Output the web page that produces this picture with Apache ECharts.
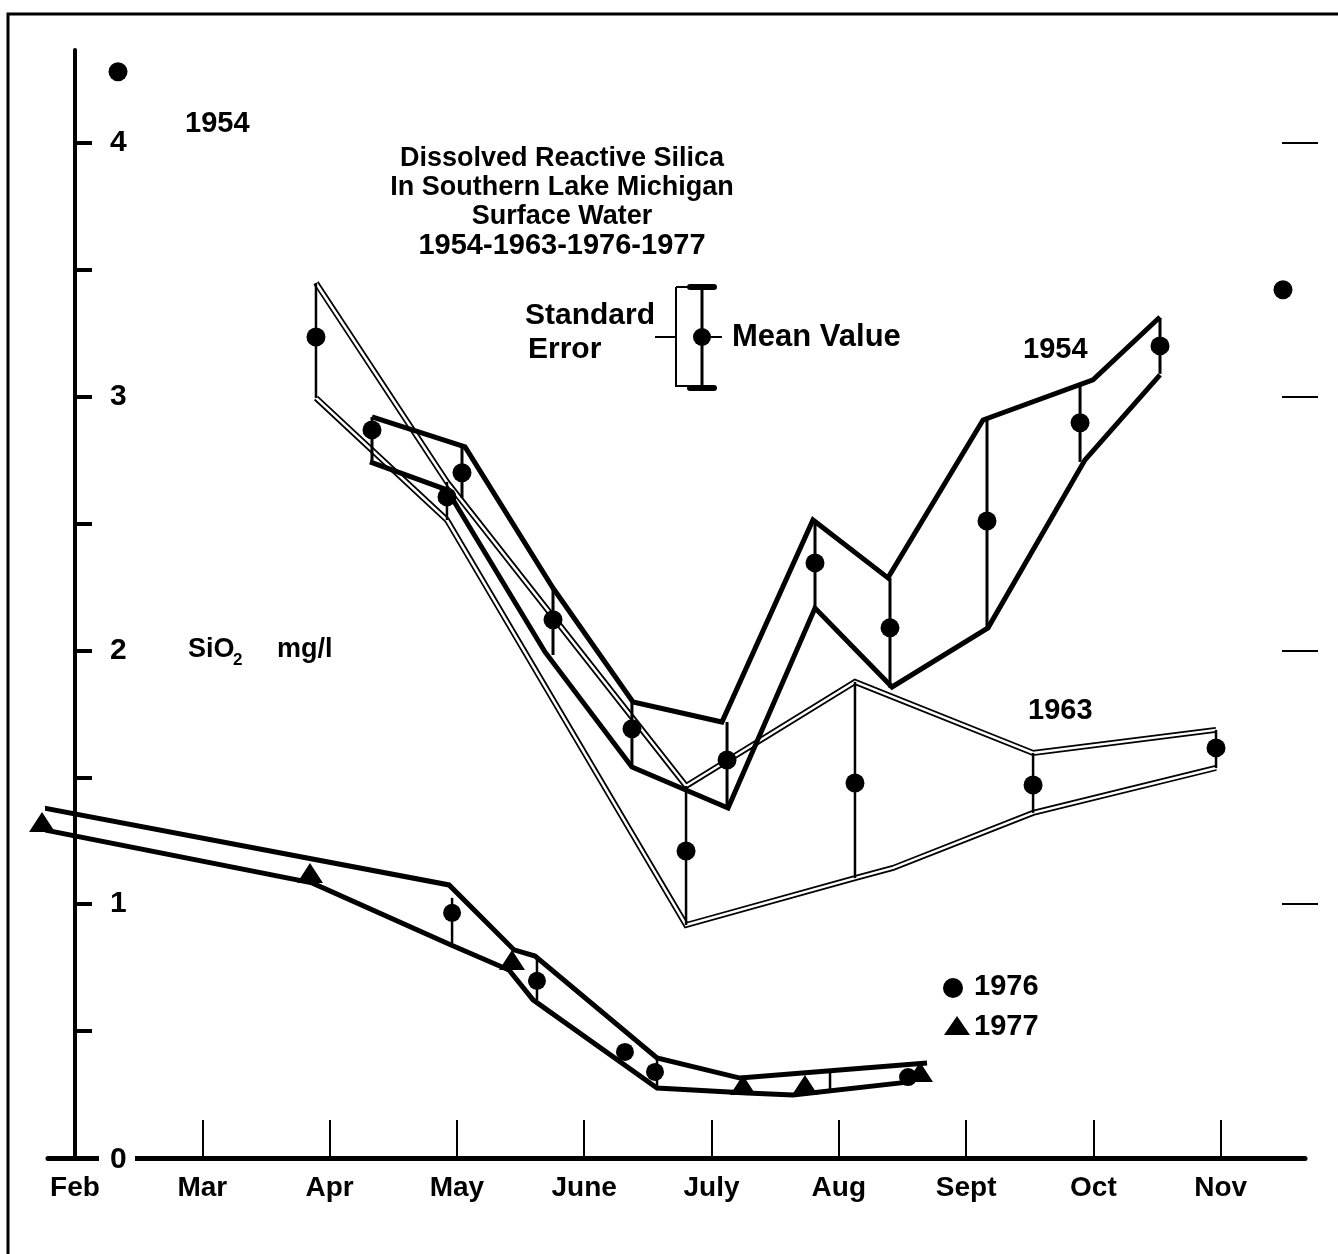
<!DOCTYPE html>
<html>
<head>
<meta charset="utf-8">
<script src="https://cdn.jsdelivr.net/npm/echarts@6/dist/echarts.min.js"></script>
<style>
  html, body { margin: 0; padding: 0; background: #fff; }
  #main { width: 1338px; height: 1254px; }
</style>
</head>
<body>
<div id="main"></div>
<script>
// x = months after 1 Feb (Feb = 0 ... Nov = 9), y = SiO2 mg/l
const months = ['Feb', 'Mar', 'Apr', 'May', 'June', 'July', 'Aug', 'Sept', 'Oct', 'Nov'];

// 1963 (double line band)
const x1963 = [1.893, 2.922, 4.800, 6.127, 7.526, 8.963];
const mean1963 = [3.235, 2.605, 1.210, 1.478, 1.470, 1.616];
const hi1963 = [3.448, 2.664, 1.466, 1.876, 1.596, 1.687];
const lo1963 = [2.995, 2.514, 0.918, 1.103, 1.360, 1.537];
const loLineX1963 = [1.893, 2.922, 4.800, 6.127, 6.426, 7.526, 8.963];
const loLineY1963 = [2.995, 2.514, 0.918, 1.103, 1.143, 1.360, 1.537];

// 1954 (bold band)
const x1954 = [2.333, 3.040, 3.755, 4.375, 5.122, 5.813, 6.402, 7.164, 7.895, 8.523];
const mean1954 = [2.869, 2.700, 2.121, 1.691, 1.568, 2.345, 2.089, 2.510, 2.897, 3.200];
const hi1954 = [2.920, 2.798, 2.246, 1.797, 1.718, 2.514, 2.286, 2.908, 3.042, 3.310];
const lo1954 = [2.743, 2.601, 1.982, 1.541, 1.379, 2.171, 1.852, 2.093, 2.743, 3.090];
const upLineX1954 = [2.333, 3.064, 3.755, 4.383, 5.082, 5.797, 6.386, 7.133, 7.997, 8.523];
const upLineY1954 = [2.920, 2.802, 2.246, 1.797, 1.718, 2.514, 2.286, 2.908, 3.066, 3.314];
const loLineX1954 = [2.317, 2.922, 3.692, 4.375, 5.130, 5.813, 6.418, 7.172, 7.934, 8.523];
const loLineY1954 = [2.743, 2.633, 1.994, 1.541, 1.379, 2.167, 1.856, 2.089, 2.751, 3.086];
const extraX1954 = [0.338, 9.489];
const extraY1954 = [4.280, 3.421];

// 1976 / 1977 (lower band)
const upLineX7677 = [-0.244, 2.938, 3.449, 3.614, 4.572, 5.224, 6.693];
const upLineY7677 = [1.379, 1.076, 0.820, 0.796, 0.394, 0.315, 0.374];
const loLineX7677 = [-0.244, 1.862, 2.954, 3.409, 3.598, 4.572, 5.279, 5.640, 6.559];
const loLineY7677 = [1.293, 1.084, 0.839, 0.741, 0.623, 0.276, 0.256, 0.248, 0.300];
const barX7677 = [2.962, 3.629, 4.572, 5.931];
const barHi7677 = [1.025, 0.792, 0.394, 0.339];
const barLo7677 = [0.847, 0.623, 0.276, 0.268];
const x1976 = [2.962, 3.629, 4.320, 4.556, 6.544];
const y1976 = [0.966, 0.698, 0.418, 0.339, 0.319];
const x1977 = [-0.259, 1.846, 3.433, 5.247, 5.734, 6.638];
const y1977 = [1.324, 1.123, 0.780, 0.288, 0.288, 0.339];

const yTicks = [0.5, 1, 1.5, 2, 2.5, 3, 3.5, 4];
const yLabels = [0, 1, 2, 3, 4];
const rightTicks = [1, 2, 3, 4];

const FONT = 'Liberation Sans, Arial, sans-serif';
const zip = (xs, ys) => xs.map((x, i) => [x, ys[i]]);
const zip3 = (xs, a, b) => xs.map((x, i) => [x, a[i], b[i]]);

function lineSeries(data, width, color, z) {
  return {
    type: 'line', data: data, symbol: 'none', clip: false, silent: true, z: z,
    lineStyle: { color: color, width: width, join: 'miter', cap: 'butt', opacity: 1 }
  };
}
function barSeries(data, width, z) {
  return {
    type: 'custom', data: data, clip: false, silent: true, z: z,
    encode: { x: 0, y: [1, 2] },
    renderItem: function (params, api) {
      const a = api.coord([api.value(0), api.value(1)]);
      const b = api.coord([api.value(0), api.value(2)]);
      return {
        type: 'line',
        shape: { x1: a[0], y1: a[1], x2: b[0], y2: b[1] },
        style: { stroke: '#000', lineWidth: width }
      };
    }
  };
}
function dotSeries(data, symbol, size, z) {
  return {
    type: 'scatter', data: data, symbol: symbol, symbolSize: size, clip: false, silent: true, z: z,
    itemStyle: { color: '#000', opacity: 1 }
  };
}

const chart = echarts.init(document.getElementById('main'), null, { renderer: 'canvas' });

const txt = (x, y, text, size, align) => ({
  type: 'text', x: x, y: y, silent: true, z: 10,
  style: { text: text, font: 'bold ' + size + 'px ' + FONT, fill: '#000', align: align || 'left', verticalAlign: 'middle' }
});
const seg = (x1, y1, x2, y2, w, cap) => ({
  type: 'line', silent: true, shape: { x1: x1, y1: y1, x2: x2, y2: y2 },
  style: { stroke: '#000', lineWidth: w, lineCap: cap || 'butt' }
});

let option = {
  animation: false,
  backgroundColor: '#fff',
  grid: { left: 48, right: 33, top: 50, bottom: 96, outerBoundsMode: 'none' },
  xAxis: {
    type: 'value', min: -0.212, max: 9.662,
    splitLine: { show: false },
    axisLine: { onZero: false, lineStyle: { color: '#000', width: 5 } },
    axisTick: { inside: true, length: 38, customValues: [1, 2, 3, 4, 5, 6, 7, 8, 9], lineStyle: { color: '#000', width: 2 } },
    axisLabel: {
      customValues: [0, 1, 2, 3, 4, 5, 6, 7, 8, 9],
      formatter: v => months[Math.round(v)],
      margin: 16, color: '#000', fontSize: 28, fontWeight: 'bold', fontFamily: FONT
    }
  },
  yAxis: [{
    type: 'value', min: 0, max: 4.366,
    splitLine: { show: false },
    axisLine: { onZero: true, lineStyle: { color: '#000', width: 4 } },
    axisTick: { inside: true, length: 17, customValues: yTicks, lineStyle: { color: '#000', width: 4 } },
    axisLabel: { show: false }
  }, {
    type: 'value', min: 0, max: 4.366, position: 'right', offset: 13,
    splitLine: { show: false },
    axisLine: { show: false, onZero: false },
    axisTick: { show: true, inside: true, length: 36, customValues: rightTicks, lineStyle: { color: '#000', width: 2 } },
    axisLabel: { show: false }
  }],
  series: [
    // 1963 double lines
    lineSeries(zip(x1963, hi1963), 6, '#000', 2),
    lineSeries(zip(x1963, hi1963), 2.5, '#fff', 3),
    lineSeries(zip(loLineX1963, loLineY1963), 6, '#000', 2),
    lineSeries(zip(loLineX1963, loLineY1963), 2.5, '#fff', 3),
    barSeries(zip3(x1963, lo1963, hi1963), 2.5, 4),
    dotSeries(zip(x1963, mean1963), 'circle', 19, 8),
    // 1954 bold band
    lineSeries(zip(upLineX1954, upLineY1954), 5, '#000', 5),
    lineSeries(zip(loLineX1954, loLineY1954), 5, '#000', 5),
    barSeries(zip3(x1954, lo1954, hi1954), 3, 5),
    dotSeries(zip(x1954, mean1954), 'circle', 19, 8),
    dotSeries(zip(extraX1954, extraY1954), 'circle', 19, 8),
    // 1976 / 1977 band
    lineSeries(zip(upLineX7677, upLineY7677), 5, '#000', 5),
    lineSeries(zip(loLineX7677, loLineY7677), 5, '#000', 5),
    barSeries(zip3(barX7677, barLo7677, barHi7677), 2.5, 5),
    dotSeries(zip(x1976, y1976), 'circle', 18, 8),
    dotSeries(zip(x1977, y1977), 'triangle', [26, 20], 8)
  ],
  graphic: [
    { type: 'rect', silent: true, shape: { x: 8, y: 14, width: 1400, height: 1300 }, style: { fill: 'none', stroke: '#000', lineWidth: 3 } },
    txt(185, 124, '1954', 29),
    {
      type: 'text', x: 562, y: 144, silent: true,
      style: {
        text: '{a|Dissolved Reactive Silica}\n{a|In Southern Lake Michigan}\n{a|Surface Water}\n{d|1954-1963-1976-1977}',
        align: 'center', verticalAlign: 'top',
        rich: {
          a: { font: 'bold 27px ' + FONT, fill: '#000', lineHeight: 29, align: 'center' },
          d: { font: 'bold 29px ' + FONT, fill: '#000', lineHeight: 29, align: 'center' }
        }
      }
    },
    txt(525, 316, 'Standard', 30),
    txt(528, 350, 'Error', 30),
    txt(732, 337, 'Mean Value', 31),
    // standard error key
    seg(655, 337, 676, 337, 2),
    seg(676, 287, 676, 387, 2),
    seg(676, 287, 689, 287, 2),
    seg(676, 386, 689, 386, 2),
    seg(702, 287, 702, 388, 3),
    seg(690, 287, 714, 287, 6, 'round'),
    seg(690, 388, 714, 388, 6, 'round'),
    { type: 'circle', silent: true, shape: { cx: 702, cy: 337, r: 9 }, style: { fill: '#000' } },
    seg(711, 337, 722, 337, 2),
    txt(1023, 350, '1954', 29),
    txt(1028, 711, '1963', 29),
    txt(188, 650, 'SiO', 27),
    txt(233, 660, '2', 17),
    txt(277, 650, 'mg/l', 27),
    // 1976 / 1977 key
    { type: 'circle', silent: true, shape: { cx: 953, cy: 988, r: 10 }, style: { fill: '#000' } },
    txt(974, 987, '1976', 29),
    { type: 'polygon', silent: true, shape: { points: [[957, 1016], [944, 1035], [970, 1035]] }, style: { fill: '#000' } },
    txt(974, 1027, '1977', 29)
  ]
};

chart.setOption(option);

// y tick labels sit inside the plot, right of the axis; place them with the axis scale
const yLabelGraphics = [];
yLabels.forEach(v => {
  const py = chart.convertToPixel({ yAxisIndex: 0 }, v);
  if (v === 0) {
    yLabelGraphics.push({ type: 'rect', silent: true, z: 9, shape: { x: 99, y: py - 6, width: 36, height: 12 }, style: { fill: '#fff' } });
  }
  yLabelGraphics.push(txt(110, py + (v === 0 ? 2 : 0), String(v), 30));
});
chart.setOption({ graphic: option.graphic.concat(yLabelGraphics) });
</script>
</body>
</html>
